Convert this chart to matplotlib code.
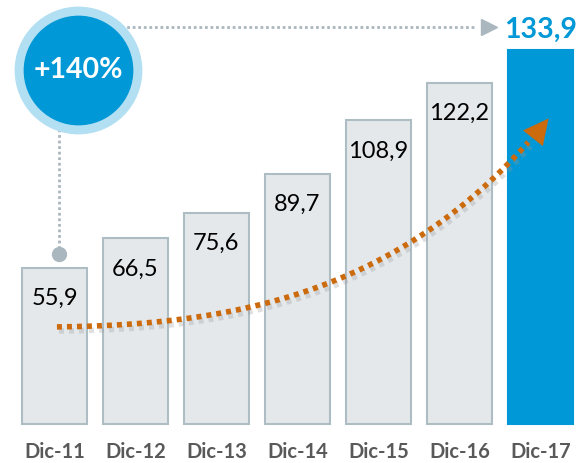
import numpy as np
import matplotlib
matplotlib.use("Agg")
import matplotlib.pyplot as plt
import matplotlib.patheffects as pe

# data
categories = ["Dic-11", "Dic-12", "Dic-13", "Dic-14", "Dic-15", "Dic-16", "Dic-17"]
values = [55.9, 66.5, 75.6, 89.7, 108.9, 122.2, 133.9]
growth_label = "+140%"

plt.rcParams['font.family'] = ['Lato', 'DejaVu Sans']

fig = plt.figure(figsize=(5.8, 4.63), dpi=100)
ax = fig.add_axes([0, 0, 1, 1])
ax.set_xlim(-0.673, 6.488)
ax.set_ylim(-13.98, 151.97)
ax.axis("off")

grey_fill = "#e4e8eb"
grey_edge = "#aebcc4"
blue = "#0098d6"
orange = "#cc6a0e"

x = np.arange(len(values))
colors = [grey_fill] * (len(values) - 1) + [blue]
edges = [grey_edge] * (len(values) - 1) + [blue]
ax.bar(x, values, width=0.8, color=colors, edgecolor=edges, linewidth=1.5, zorder=2)

# value labels
for i, v in enumerate(values):
    txt = f"{v:.1f}".replace(".", ",")
    if i == len(values) - 1:
        ax.text(i, v + 7.5, txt, ha="center", va="center", fontsize=20.5,
                fontweight="bold", color=blue, zorder=5)
    else:
        ax.text(i, v - 11, txt, ha="center", va="center", fontsize=17,
                color="black", zorder=5)

# category labels
for i, c in enumerate(categories):
    ax.text(i, -10.2, c, ha="center", va="center", fontsize=14.5,
            fontweight="bold", color="#595959")

# growth badge
cx, cy = 0.29, 126.9
ax.plot([cx], [cy], "o", markersize=91, color="#b3dff3", zorder=6)
ax.plot([cx], [cy], "o", markersize=78, color=blue, zorder=7)
ax.text(cx, cy, growth_label, ha="center", va="center", fontsize=20.5,
        fontweight="bold", color="white", zorder=8)

# grey dotted connectors
dot_grey = "#aab7bf"
ax.plot([0.056, 0.056], [60.9, 110], color=dot_grey, linestyle=(0, (1, 1)),
        linewidth=2, zorder=3)
ax.plot([0.056], [60.9], "o", markersize=10, color=dot_grey, zorder=4)
ax.plot([0.68, 5.2], [142.3, 142.3], color=dot_grey, linestyle=(0, (1, 1)),
        linewidth=2, zorder=3)
ax.plot([5.37], [142.3], ">", markersize=12, color=dot_grey, zorder=4)

# orange growth curve (cubic bezier)
shadow = [pe.SimpleLineShadow(offset=(1.5, -3), shadow_color="#9a9a9a", alpha=0.3),
          pe.Normal()]
p0 = np.array([0.03, 34.8])
p1 = np.array([2.0, 35.5])
p2 = np.array([4.1, 44.0])
p3 = np.array([5.85, 101.0])
t = np.linspace(0, 1, 200)[:, None]
curve = ((1 - t) ** 3 * p0 + 3 * (1 - t) ** 2 * t * p1
         + 3 * (1 - t) * t ** 2 * p2 + t ** 3 * p3)
ax.plot(curve[:, 0], curve[:, 1], color=orange, linestyle=(0, (0.9, 0.9)),
        linewidth=4, zorder=4, path_effects=shadow)
ax.annotate("", xy=(6.1, 109.5), xytext=(5.8, 98.5),
            arrowprops=dict(arrowstyle="-|>,head_length=0.9,head_width=0.45",
                            mutation_scale=20, color=orange, lw=0.1,
                            shrinkA=0, shrinkB=0),
            zorder=5)

fig.savefig("out.png", dpi=100)
